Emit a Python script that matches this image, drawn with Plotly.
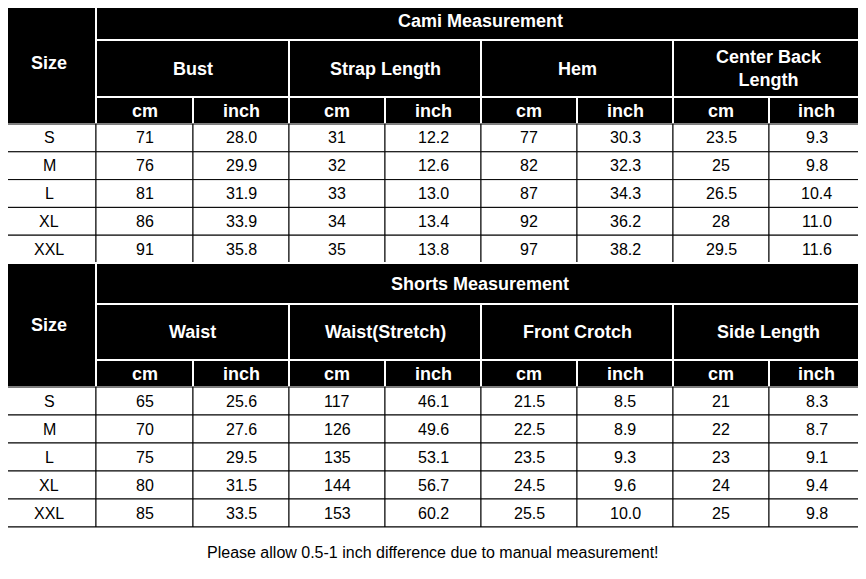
import plotly.graph_objects as go

sizes = ["S", "M", "L", "XL", "XXL"]
cami_title = "Cami Measurement"
cami_groups = ["Bust", "Strap Length", "Hem", "Center Back<br>Length"]
cami_cm = {"Bust": [71, 76, 81, 86, 91], "Strap": [31, 32, 33, 34, 35],
           "Hem": [77, 82, 87, 92, 97], "CBL": [23.5, 25, 26.5, 28, 29.5]}
cami_inch = {"Bust": [28.0, 29.9, 31.9, 33.9, 35.8], "Strap": [12.2, 12.6, 13.0, 13.4, 13.8],
             "Hem": [30.3, 32.3, 34.3, 36.2, 38.2], "CBL": [9.3, 9.8, 10.4, 11.0, 11.6]}
shorts_title = "Shorts Measurement"
shorts_groups = ["Waist", "Waist(Stretch)", "Front Crotch", "Side Length"]
shorts_cm = {"Waist": [65, 70, 75, 80, 85], "WS": [117, 126, 135, 144, 153],
             "FC": [21.5, 22.5, 23.5, 24.5, 25.5], "SL": [21, 22, 23, 24, 25]}
shorts_inch = {"Waist": [25.6, 27.6, 29.5, 31.5, 33.5], "WS": [46.1, 49.6, 53.1, 56.7, 60.2],
               "FC": [8.5, 8.9, 9.3, 9.6, 10.0], "SL": [8.3, 8.7, 9.1, 9.4, 9.8]}
note = "Please allow 0.5-1 inch difference due to manual measurement!"

xs = [2, 96, 193, 289, 385, 481, 577, 673, 769, 864]
FONT = "Liberation Sans, Arial"
shapes, ann = [], []

def cell(x0, x1, y0, y1, text, dark, size=16, bold=False):
    shapes.append(dict(type="rect", x0=x0, x1=x1, y0=y0, y1=y1,
                       fillcolor="black" if dark else "white",
                       line=dict(color="white" if dark else "black", width=2 if dark else 1)))
    if text != "":
        t = f"<b>{text}</b>" if bold else str(text)
        ann.append(dict(x=(x0 + x1) / 2, y=(y0 + y1) / 2, text=t, showarrow=False,
                        font=dict(family=FONT, size=size, color="white" if dark else "black"),
                        xanchor="center", yanchor="middle"))

def fmt(v, inch):
    if inch:
        return f"{v:.1f}"
    return f"{v:g}"

def block(y0, title, groups, cm, inch, yt, yh, yu, rowh):
    cell(xs[0], xs[1], y0, yu, "Size", True, 18, True)
    cell(xs[1], xs[-1], y0, yt, title, True, 18, True)
    for g, name in enumerate(groups):
        cell(xs[1 + 2 * g], xs[3 + 2 * g], yt, yh, name, True, 18, True)
        cell(xs[1 + 2 * g], xs[2 + 2 * g], yh, yu, "cm", True, 18, True)
        cell(xs[2 + 2 * g], xs[3 + 2 * g], yh, yu, "inch", True, 18, True)
    keys = list(cm.keys())
    for r, s in enumerate(sizes):
        ya, yb = yu + r * rowh, yu + (r + 1) * rowh
        cell(xs[0], xs[1], ya, yb, s, False)
        for g, k in enumerate(keys):
            cell(xs[1 + 2 * g], xs[2 + 2 * g], ya, yb, fmt(cm[k][r], False), False)
            cell(xs[2 + 2 * g], xs[3 + 2 * g], ya, yb, fmt(inch[k][r], True), False)

block(2, cami_title, cami_groups, cami_cm, cami_inch, 40, 97, 124, 27.8)
block(263, shorts_title, shorts_groups, shorts_cm, shorts_inch, 304, 360, 387, 28)
cell(xs[0], xs[-1], 527, 577, note, False, 16)

# page body has an 8px margin, so shrink the figure and shift the ranges to keep 1:1 pixel mapping
fig = go.Figure()
fig.update_layout(width=850, height=563, margin=dict(l=0, r=0, t=0, b=0),
                  paper_bgcolor="white", plot_bgcolor="white",
                  xaxis=dict(range=[8, 858], visible=False, fixedrange=True),
                  yaxis=dict(range=[571, 8], visible=False, fixedrange=True),
                  shapes=shapes, annotations=ann, showlegend=False)
fig.write_html("out.html")
